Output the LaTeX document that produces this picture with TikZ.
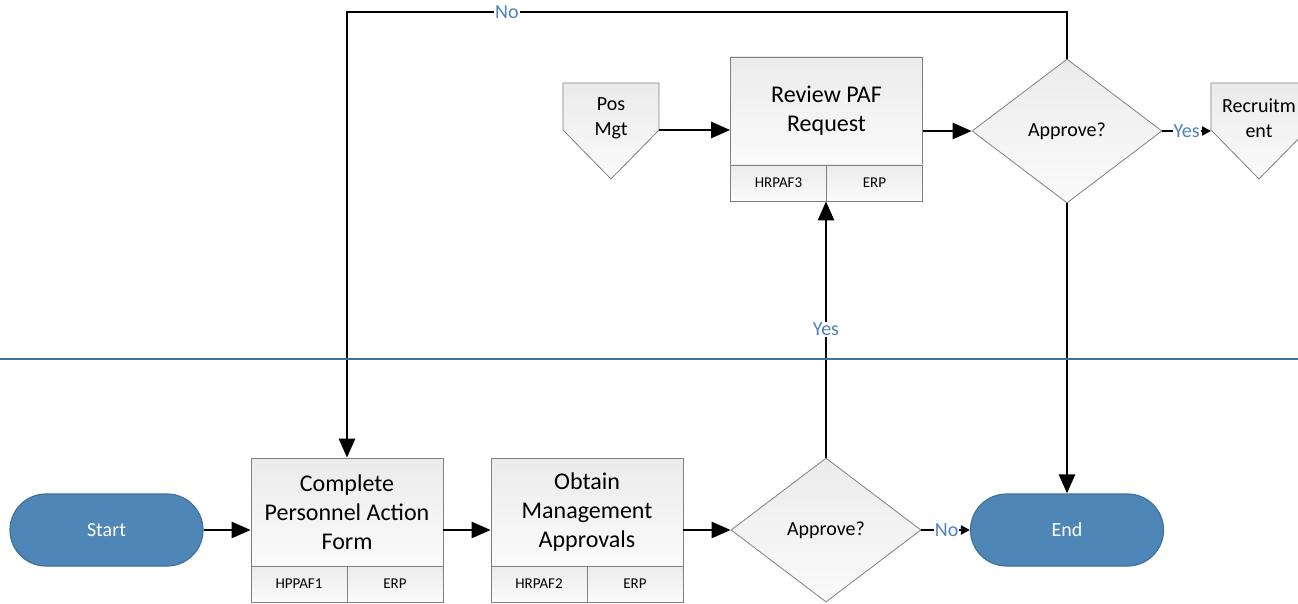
\documentclass[tikz,border=0pt]{standalone}
\usepackage{fontspec}
\setmainfont{Carlito}
\usetikzlibrary{shapes.geometric,arrows.meta}
\definecolor{pillblue}{HTML}{4E86B8}
\definecolor{pillborder}{HTML}{41719C}
\definecolor{lblblue}{HTML}{4F81BD}
\definecolor{boxborder}{HTML}{808080}
\definecolor{shtop}{HTML}{EBEBEB}
\definecolor{shbot}{HTML}{FBFBFB}
\begin{document}
\begin{tikzpicture}[x=1pt,y=-1pt,
  pill/.style={rectangle, rounded corners=36pt, draw=pillborder, line width=1.2pt, fill=pillblue,
    minimum width=193pt, minimum height=72pt, inner sep=0pt, text=white, font=\fontsize{20}{24}\selectfont},
  procbox/.style={rectangle, draw=boxborder, line width=0.8pt, top color=shtop, bottom color=shbot,
    minimum width=192pt, minimum height=108pt, inner sep=0pt, align=center, font=\fontsize{24}{29}\selectfont},
  cellbox/.style={rectangle, draw=boxborder, line width=0.8pt, top color=shtop, bottom color=shbot,
    minimum width=96pt, minimum height=36pt, inner sep=0pt, font=\fontsize{15}{18}\selectfont},
  decision/.style={diamond, draw=boxborder, line width=0.8pt, top color=shtop, bottom color=shbot,
    minimum width=190pt, minimum height=144pt, inner sep=0pt, aspect=1.32, font=\fontsize{20}{24}\selectfont},
  offpage/.style={draw=boxborder, line width=0.8pt, top color=shtop, bottom color=shbot},
  offtext/.style={align=center, inner sep=0pt, font=\fontsize{20}{25}\selectfont},
  conn/.style={line width=2.7pt, -{Triangle[length=19pt,width=16pt]}},
  smallconn/.style={line width=2.7pt, -{Triangle[length=9pt,width=9pt]}},
  lbl/.style={fill=white, text=lblblue, inner sep=1pt, font=\fontsize{20}{23}\selectfont}
]
\useasboundingbox (0,0) rectangle (1298,604);
\clip (0,0) rectangle (1298,604);

% bottom lane
\node[pill] (start) at (106.5,530) {Start};
\node[procbox] (cpaf) at (347,512) {Complete\\Personnel Action\\Form};
\node[cellbox] (cpafA) at (299,584) {HPPAF1};
\node[cellbox] (cpafB) at (395,584) {ERP};
\node[procbox] (oma) at (587,512) {Obtain\\Management\\Approvals};
\node[cellbox] (omaA) at (539,584) {HRPAF2};
\node[cellbox] (omaB) at (635,584) {ERP};
\node[decision] (dec1) at (826,530) {Approve?};
\node[pill] (end) at (1067,530) {End};

% top lane
\path[offpage] (563,83) -- (659,83) -- (659,130) -- (611,179) -- (563,130) -- cycle;
\node[offtext] (posmgt) at (611,118) {Pos\\Mgt};
\coordinate (posmgtout) at (659,130);
\node[procbox] (rev) at (826.5,111) {Review PAF\\Request};
\node[cellbox] (revA) at (778.5,183) {HRPAF3};
\node[cellbox] (revB) at (874.5,183) {ERP};
\node[decision] (dec2) at (1067,131) {Approve?};
\path[offpage] (1211,83) -- (1307,83) -- (1307,130) -- (1259,179) -- (1211,130) -- cycle;
\node[offtext] (recr) at (1259,118) {Recruitm\\ent};
\coordinate (recrin) at (1211,131);
\coordinate (loopturn) at (1067,12);

% connectors
\draw[conn] (start.east) -- (cpaf.west |- start.east);
\draw[conn] (cpaf.east |- start.east) -- (oma.west |- start.east);
\draw[conn] (oma.east |- dec1.west) -- (dec1.west);
\draw[smallconn] (dec1.east) -- node[lbl, pos=0.52] {No} (end.west);
\draw[conn] (dec1.north) -- node[lbl] {Yes} (dec1.north |- revB.south);
\draw[conn] (posmgtout) -- (posmgtout -| rev.west);
\draw[conn] (rev.east |- dec2.west) -- (dec2.west);
\draw[smallconn] (dec2.east) -- node[lbl, pos=0.5] {Yes} (recrin);
\draw[conn] (dec2.south) -- (end.north);
\draw[conn] (dec2.north) -- (loopturn) -| node[lbl, pos=0.389] {No} (cpaf.north);

% lane divider
\draw[pillborder, line width=2pt] (0,359) -- (1298,359);
\end{tikzpicture}
\end{document}
